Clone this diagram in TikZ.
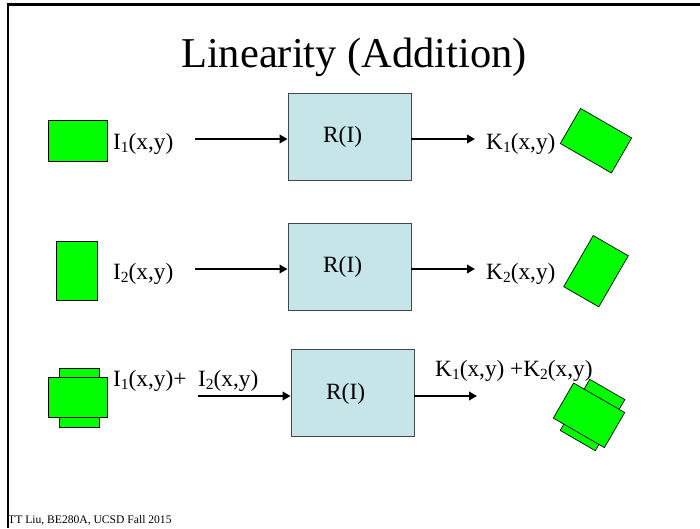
\documentclass[tikz,border=0pt]{standalone}
\usepackage{fontspec}
\setmainfont{Liberation Serif}
\usetikzlibrary{arrows.meta}
\definecolor{boxfill}{RGB}{197,229,232}
\definecolor{boxdraw}{RGB}{70,70,70}
\definecolor{imggreen}{RGB}{0,255,0}
\newcommand\mysub[1]{\raisebox{-3.8pt}{\fontsize{15.5}{18}\selectfont #1}}
\begin{document}
\begin{tikzpicture}[x=1pt,y=-1pt,
  lbl/.style={inner sep=0pt,anchor=base west,font=\fontsize{23.3}{28}\selectfont},
  sysbox/.style={draw=boxdraw,fill=boxfill,line width=0.9pt,minimum width=123pt,minimum height=87pt,inner sep=0pt},
  wideimg/.style={draw=black,fill=imggreen,line width=0.7pt,minimum width=59pt,minimum height=40.5pt,inner sep=0pt},
  tallimg/.style={draw=black,fill=imggreen,line width=0.7pt,minimum width=40.5pt,minimum height=59pt,inner sep=0pt},
  arr/.style={line width=2.4pt,-{Triangle[length=8pt,width=8.5pt]}}]
\useasboundingbox (0,0) rectangle (700,528);
\fill[white] (0,0) rectangle (700,528);
% frame
\draw[line width=3pt] (6.5,4) -- (700,4);
\draw[line width=2.5pt] (7.8,4) -- (7.8,528);
% title
\node[inner sep=0pt,anchor=base,font=\fontsize{42.5}{50}\selectfont] (title) at (354,67) {Linearity (Addition)};
% boxes
\node[sysbox] (b1) at (349.5,136.5) {};
\node[sysbox] (b2) at (349.5,266.5) {};
\node[sysbox] (b3) at (352.5,393) {};
\node[lbl] (r1) at (323,142) {R(I)};
\node[lbl] (r2) at (323,272) {R(I)};
\node[lbl] (r3) at (326,399) {R(I)};
% input images
\node[wideimg] (i1) at (77.5,141) {};
\node[tallimg] (i2) at (77,271) {};
\node[tallimg] (i3b) at (79.5,397.5) {};
\node[wideimg] (i3a) at (77.5,397.5) {};
% output images
\node[wideimg,rotate=-30] (k1) at (596,140.7) {};
\node[tallimg,rotate=-30] (k2) at (596,271.2) {};
\node[tallimg,rotate=-30] (k3b) at (592.5,415) {};
\node[wideimg,rotate=-30] (k3a) at (589,415.3) {};
% labels
\node[lbl] (li1) at (113,149) {I\mysub{1}(x,y)};
\node[lbl] (li2) at (113,279) {I\mysub{2}(x,y)};
\node[lbl] (li3) at (113,386) {I\mysub{1}(x,y)+\ \ I\mysub{2}(x,y)};
\node[lbl] (lk1) at (486,149) {K\mysub{1}(x,y)};
\node[lbl] (lk2) at (486,279) {K\mysub{2}(x,y)};
\node[lbl] (lk3) at (435,376) {K\mysub{1}(x,y) +K\mysub{2}(x,y)};
% arrows
\coordinate (a1s) at (195,139);
\coordinate (a1e) at (475,139);
\coordinate (a2s) at (195,269);
\coordinate (a2e) at (475,269);
\coordinate (a3s) at (198,396);
\coordinate (a3e) at (477,396);
\draw[arr] (a1s) -- (b1.west |- a1s);
\draw[arr] (b1.east |- a1e) -- (a1e);
\draw[arr] (a2s) -- (b2.west |- a2s);
\draw[arr] (b2.east |- a2e) -- (a2e);
\draw[arr] (a3s) -- (b3.west |- a3s);
\draw[arr] (b3.east |- a3e) -- (a3e);
% footer
\node[inner sep=0pt,anchor=base west,font=\fontsize{11.6}{14}\selectfont] (foot) at (8,523) {TT Liu, BE280A, UCSD Fall 2015};
\end{tikzpicture}
\end{document}
